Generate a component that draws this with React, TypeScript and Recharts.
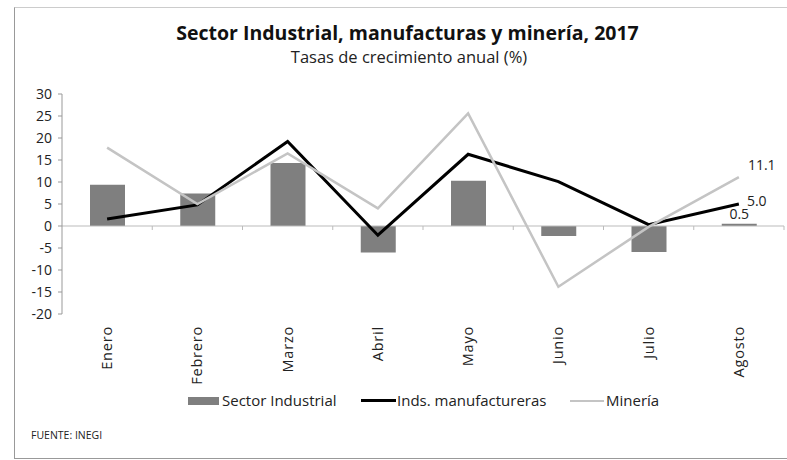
import React from "react";
import {
  ComposedChart,
  Bar,
  Line,
  XAxis,
  YAxis,
  ReferenceLine,
  Legend,
  LabelList,
} from "recharts";

const months = ["Enero", "Febrero", "Marzo", "Abril", "Mayo", "Junio", "Julio", "Agosto"];
const sectorIndustrial = [9.4, 7.4, 14.3, -6.0, 10.3, -2.3, -5.9, 0.5];
const manufactureras = [1.6, 4.8, 19.2, -2.1, 16.3, 10.1, 0.3, 5.0];
const mineria = [17.8, 5.0, 16.5, 4.0, 25.6, -13.8, -0.2, 11.1];
const yTicks = [-20, -15, -10, -5, 0, 5, 10, 15, 20, 25, 30];

const data = months.map((m, i) => ({
  month: m,
  sector: sectorIndustrial[i],
  manuf: manufactureras[i],
  min: mineria[i],
}));

const FONT = "'Open Sans', 'Noto Sans', sans-serif";
const LAST = months.length - 1;

const XTick = (props: any) => {
  const { x, y, payload } = props;
  return (
    <text
      x={0}
      y={0}
      transform={`translate(${x + 5},${y + 4}) rotate(-90)`}
      textAnchor="end"
      fontSize={14.5}
      fontFamily={FONT}
      fill="#222"
      letterSpacing={0.8}
    >
      {payload.value}
    </text>
  );
};

const lastLabel = (dx: number, dy: number) => (props: any) => {
  const { x, y, index, value } = props;
  if (index !== LAST) return null;
  return (
    <text x={x + dx} y={y + dy} textAnchor="start" fontSize={14} fontFamily={FONT} fill="#222">
      {Number(value).toFixed(1)}
    </text>
  );
};

const barLabel = (props: any) => {
  const { x, y, width, index, value } = props;
  if (index !== LAST) return null;
  return (
    <text x={x + width / 2} y={y - 5} textAnchor="middle" fontSize={14} fontFamily={FONT} fill="#222">
      {Number(value).toFixed(1)}
    </text>
  );
};

const ZeroLine = (props: any) => {
  const { x1, x2, y1 } = props;
  const n = months.length;
  const step = (x2 - x1) / n;
  const ticks = [];
  for (let i = 1; i <= n; i++) {
    const tx = x1 + i * step;
    ticks.push(<line key={i} x1={tx} x2={tx} y1={y1} y2={y1 + 4} stroke="#bbb" />);
  }
  return (
    <g>
      <line x1={x1} x2={x2} y1={y1} y2={y1} stroke="#bbb" />
      {ticks}
    </g>
  );
};

const LegendContent = () => (
  <div style={{ position: "relative", width: 787, height: 20, fontFamily: FONT, fontSize: 15, color: "#222" }}>
    <span style={{ position: "absolute", left: 188, top: 7, width: 31, height: 8, background: "#7f7f7f" }} />
    <span style={{ position: "absolute", left: 222, top: 0, lineHeight: "20px" }}>Sector Industrial</span>
    <span style={{ position: "absolute", left: 361, top: 9, width: 35, height: 3, background: "#000" }} />
    <span style={{ position: "absolute", left: 397, top: 0, lineHeight: "20px" }}>Inds. manufactureras</span>
    <span style={{ position: "absolute", left: 570, top: 10, width: 34, height: 2, background: "#c4c4c4" }} />
    <span style={{ position: "absolute", left: 606, top: 0, lineHeight: "20px" }}>Minería</span>
  </div>
);

export default function App() {
  return (
    <div style={{ position: "absolute", left: 0, top: 0, width: 787, height: 460, background: "#fff", overflow: "hidden" }}>
      <div
        style={{
          position: "absolute",
          left: 14,
          top: 7,
          width: 800,
          height: 450,
          borderLeft: "1px solid #999",
          borderTop: "1px solid #ccc",
          borderBottom: "1px solid #999",
        }}
      />
      <div
        style={{
          position: "absolute",
          left: 0,
          width: 815,
          top: 19,
          textAlign: "center",
          fontFamily: FONT,
          fontWeight: 700,
          fontSize: 19.5,
          color: "#111",
        }}
      >
        Sector Industrial, manufacturas y minería, 2017
      </div>
      <div
        style={{
          position: "absolute",
          left: 0,
          width: 818,
          top: 45,
          textAlign: "center",
          fontFamily: FONT,
          fontSize: 16.5,
          color: "#222",
        }}
      >
        Tasas de crecimiento anual (%)
      </div>
      <div style={{ position: "absolute", left: 31, top: 428, fontFamily: FONT, fontSize: 10.5, color: "#222" }}>
        FUENTE: INEGI
      </div>
      <div style={{ position: "absolute", left: 0, top: 0 }}>
        <ComposedChart
          width={787}
          height={460}
          data={data}
          margin={{ top: 94, right: 3, bottom: 86, left: 0 }}
          barSize={35}
        >
          <XAxis
            dataKey="month"
            height={60}
            axisLine={false}
            tickLine={false}
            interval={0}
            tick={<XTick />}
          />
          <YAxis
            width={62}
            domain={[-20, 30]}
            ticks={yTicks}
            interval={0}
            axisLine={{ stroke: "#999" }}
            tickLine={{ stroke: "#999" }}
            tickSize={4}
            tick={{ fontSize: 14, fontFamily: FONT, fill: "#222" }}
            tickMargin={6}
          />
          <ReferenceLine y={0} shape={<ZeroLine />} />
          <Legend verticalAlign="middle" wrapperStyle={{ top: 390, left: 0, width: 787 }} content={<LegendContent />} />
          <Bar dataKey="sector" name="Sector Industrial" fill="#7f7f7f" isAnimationActive={false}>
            <LabelList dataKey="sector" content={barLabel} />
          </Bar>
          <Line
            dataKey="manuf"
            name="Inds. manufactureras"
            stroke="#000"
            strokeWidth={3}
            dot={false}
            type="linear"
            isAnimationActive={false}
          >
            <LabelList dataKey="manuf" content={lastLabel(8, 2)} />
          </Line>
          <Line
            dataKey="min"
            name="Minería"
            stroke="#c4c4c4"
            strokeWidth={2.5}
            dot={false}
            type="linear"
            isAnimationActive={false}
          >
            <LabelList dataKey="min" content={lastLabel(9, -7)} />
          </Line>
        </ComposedChart>
      </div>
    </div>
  );
}
